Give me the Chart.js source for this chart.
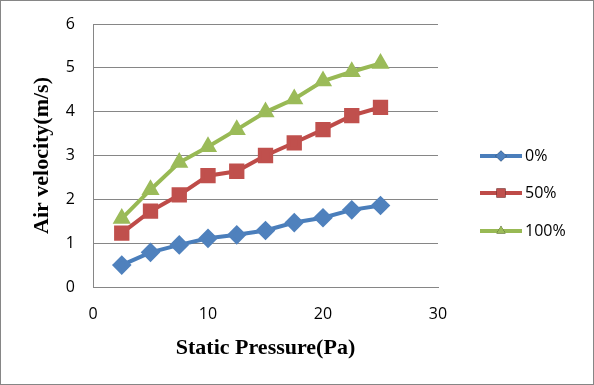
<!DOCTYPE html>
<html>
<head>
<meta charset="utf-8">
<script src="https://cdn.jsdelivr.net/npm/chart.js@4.4.0/dist/chart.umd.min.js"></script>
<style>
  body { margin: 0; background: #fff; }
  #wrap { width: 592px; height: 383px; border: 1px solid #868686; }
</style>
</head>
<body>
<div id="wrap"><canvas id="data" width="592" height="383"></canvas></div>
<script>
let pressure = [2.5, 5, 7.5, 10, 12.5, 15, 17.5, 20, 22.5, 25];
let open0 = [0.5, 0.79, 0.96, 1.11, 1.19, 1.29, 1.47, 1.58, 1.76, 1.86];
let open50 = [1.23, 1.73, 2.1, 2.54, 2.64, 3.0, 3.29, 3.59, 3.91, 4.1];
let open100 = [1.56, 2.22, 2.84, 3.2, 3.59, 3.99, 4.29, 4.7, 4.91, 5.1];
let seriesNames = ["0%", "50%", "100%"];

const tickFont = { family: "Open Sans", size: 16 };
const titleFont = { family: "Liberation Serif", size: 22, weight: "bold" };

function pts(ys) {
  return pressure.map((x, i) => ({ x: x, y: ys[i] }));
}

// legend drawn as line + marker, like the original
const sideLegend = {
  id: "sideLegend",
  afterDraw(chart) {
    const ctx = chart.ctx;
    const rows = [155, 192, 230];
    chart.data.datasets.forEach((ds, i) => {
      const y = rows[i];
      ctx.save();
      ctx.strokeStyle = ds.borderColor;
      ctx.lineWidth = 4;
      ctx.beginPath();
      ctx.moveTo(479, y);
      ctx.lineTo(521, y);
      ctx.stroke();
      Chart.helpers.drawPoint(ctx, {
        pointStyle: ds.pointStyle,
        radius: ds.pointRadius * 0.8,
        rotation: 0,
        borderWidth: 0
      }, 500, y);
      ctx.fillStyle = ds.pointBackgroundColor;
      ctx.fill();
      ctx.fillStyle = "#000";
      ctx.font = "16px 'Open Sans'";
      ctx.textBaseline = "middle";
      ctx.fillText(ds.label, 524, y);
      ctx.restore();
    });
  }
};

let linechart = new Chart(document.getElementById("data"), {
  type: "line",
  data: {
    datasets: [
      {
        label: seriesNames[0],
        data: pts(open0),
        borderColor: "#4A7EBB",
        backgroundColor: "#4F81BD",
        pointBackgroundColor: "#4F81BD",
        pointBorderColor: "#4F81BD",
        pointStyle: "rectRot",
        pointRadius: 7,
        borderWidth: 4
      },
      {
        label: seriesNames[1],
        data: pts(open50),
        borderColor: "#BE4B48",
        backgroundColor: "#C0504D",
        pointBackgroundColor: "#C0504D",
        pointBorderColor: "#C0504D",
        pointStyle: "rect",
        pointRadius: 8,
        borderWidth: 4
      },
      {
        label: seriesNames[2],
        data: pts(open100),
        borderColor: "#98B954",
        backgroundColor: "#9BBB59",
        pointBackgroundColor: "#9BBB59",
        pointBorderColor: "#9BBB59",
        pointStyle: "triangle",
        pointRadius: 6.5,
        borderWidth: 4
      }
    ]
  },
  options: {
    responsive: false,
    animation: false,
    layout: { padding: { top: 23, right: 155, bottom: 22, left: 0 } },
    scales: {
      x: {
        type: "linear",
        min: 0,
        max: 30,
        ticks: { stepSize: 10, color: "#000", font: tickFont, padding: 18 },
        grid: { display: false, drawTicks: false },
        border: { display: true, color: "#868686", width: 1 },
        title: { display: true, text: "Static Pressure(Pa)", color: "#000", font: titleFont, padding: 0 },
        afterFit(s) { s.height = 75; }
      },
      y: {
        min: 0,
        max: 6,
        ticks: { stepSize: 1, color: "#000", font: tickFont, padding: 18 },
        grid: { color: "#868686", drawTicks: false },
        border: { display: true, color: "#868686", width: 1 },
        title: { display: true, text: "Air velocity(m/s)", color: "#000", font: titleFont, padding: { top: 28, bottom: 0 } },
        afterFit(s) {
          s.width = 92;
          s.paddingTop = 10;
          s.paddingBottom = 10;
        }
      }
    },
    plugins: {
      legend: { display: false },
      tooltip: { enabled: false }
    }
  },
  plugins: [sideLegend]
});
</script>
</body>
</html>
